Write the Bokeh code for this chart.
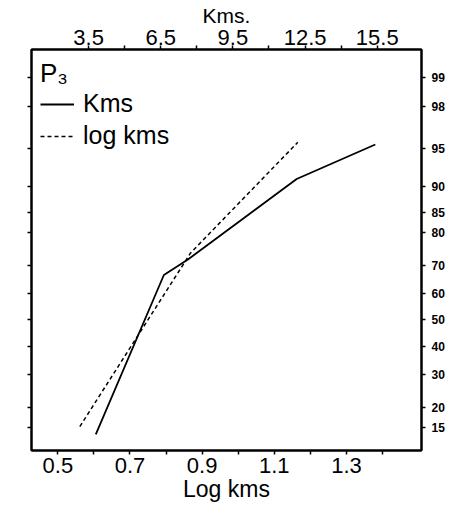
from statistics import NormalDist

from bokeh.embed import file_html
from bokeh.models import (CustomJSTickFormatter, FixedTicker, Legend,
                          LegendItem, LinearAxis, Range1d)
from bokeh.plotting import figure
from bokeh.resources import INLINE

FONT = "Liberation Sans"

# cumulative-percentage scale on the right (normal probability paper)
prob_ticks = [15, 20, 30, 40, 50, 60, 70, 80, 85, 90, 95, 98, 99]
prob_labels = [str(t) for t in prob_ticks]

# lower axis: log of distance
log_ticks = [0.5, 0.7, 0.9, 1.1, 1.3]
log_labels = ["0.5", "0.7", "0.9", "1.1", "1.3"]
log_minor = [0.6, 0.8, 1.0, 1.2, 1.4]

# upper axis: distance in km
kms_ticks = [3.5, 6.5, 9.5, 12.5, 15.5]
kms_labels = ["3.5", "6.5", "9.5", "12.5", "15.5"]
kms_minor = [5.0, 8.0, 11.0, 14.0]

# series: distance (km) vs cumulative %
kms_x = [3.80, 6.63, 7.63, 12.15, 15.42]
kms_pct = [13.6, 66.7, 71.9, 91.2, 95.4]

# series: log distance vs cumulative %
logkms_x = [0.561, 0.868, 1.165]
logkms_pct = [15.3, 74.0, 95.6]

nd = NormalDist()


def probit(pct):
    return nd.inv_cdf(pct / 100.0)


prob_z = [probit(t) for t in prob_ticks]

p = figure(width=468, height=507, output_backend="svg", toolbar_location=None,
           x_range=Range1d(0.427, 1.508),
           y_range=Range1d(probit(10.5), probit(99.53)),
           min_border_left=31, min_border_right=47,
           min_border_top=49, min_border_bottom=57)
p.extra_x_ranges = {"kms": Range1d(1.127, 17.34)}

p.xgrid.visible = False
p.ygrid.visible = False
p.outline_line_color = "black"
p.outline_line_width = 2
p.background_fill_color = "white"
p.border_fill_color = "white"


def style_axis(ax, label_size):
    ax.axis_line_color = "black"
    ax.axis_line_width = 2
    ax.major_tick_line_color = "black"
    ax.major_tick_line_width = 1.5
    ax.minor_tick_line_color = "black"
    ax.minor_tick_line_width = 1.5
    ax.major_tick_in = 0
    ax.minor_tick_in = 0
    ax.major_tick_out = 4
    ax.minor_tick_out = 4
    ax.major_label_text_font = FONT
    ax.major_label_text_font_size = label_size
    ax.major_label_text_color = "black"
    ax.axis_label_text_font = FONT
    ax.axis_label_text_font_style = "normal"
    ax.axis_label_text_color = "black"


def labels_formatter(vals, labels):
    return CustomJSTickFormatter(args=dict(vals=vals, labels=labels), code="""
        let best = 0, d = Infinity;
        for (let i = 0; i < vals.length; i++) {
            const e = Math.abs(vals[i] - tick);
            if (e < d) { d = e; best = i; }
        }
        return d < 1e-6 ? labels[best] : "";
    """)


# bottom axis: log kms
bottom = p.xaxis[0]
style_axis(bottom, "22px")
bottom.ticker = FixedTicker(ticks=log_ticks, minor_ticks=log_minor)
bottom.formatter = labels_formatter(log_ticks, log_labels)
bottom.axis_label = "Log kms"
bottom.axis_label_text_font_size = "23px"
bottom.axis_label_standoff = 0
bottom.major_label_standoff = 3

# left axis: probability ticks without labels
left = p.yaxis[0]
style_axis(left, "12px")
left.ticker = FixedTicker(ticks=prob_z)
left.formatter = labels_formatter(prob_z, [""] * len(prob_z))
left.major_label_standoff = 0

# top axis: kms
top = LinearAxis(x_range_name="kms")
style_axis(top, "22px")
top.ticker = FixedTicker(ticks=kms_ticks, minor_ticks=kms_minor)
top.formatter = labels_formatter(kms_ticks, kms_labels)
top.axis_label = "Kms."
top.axis_label_text_font_size = "21px"
top.axis_label_standoff = 0
top.major_label_standoff = 1
p.add_layout(top, "above")

# right axis: cumulative percentage
right = LinearAxis()
style_axis(right, "12px")
right.major_label_text_font_style = "bold"
right.ticker = FixedTicker(ticks=prob_z)
right.formatter = labels_formatter(prob_z, prob_labels)
right.major_label_standoff = 6
p.add_layout(right, "right")

r_kms = p.line(kms_x, [probit(v) for v in kms_pct],
               x_range_name="kms", line_color="black", line_width=1.8)
r_log = p.line(logkms_x, [probit(v) for v in logkms_pct],
               line_color="black", line_width=1.5, line_dash="4 3")

legend = Legend(items=[LegendItem(label="Kms", renderers=[r_kms]),
                       LegendItem(label="log kms", renderers=[r_log])],
                title="P\u2083", location="top_left",
                border_line_color=None, background_fill_alpha=0,
                label_text_font=FONT, label_text_font_size="25px",
                label_text_color="black",
                title_text_font=FONT, title_text_font_size="26px",
                title_text_color="black",
                title_text_font_style="normal", title_standoff=0,
                glyph_width=34, glyph_height=24, label_standoff=9,
                spacing=3, padding=2, margin=9)
p.add_layout(legend)

open("out.html", "w").write(file_html(p, INLINE))
